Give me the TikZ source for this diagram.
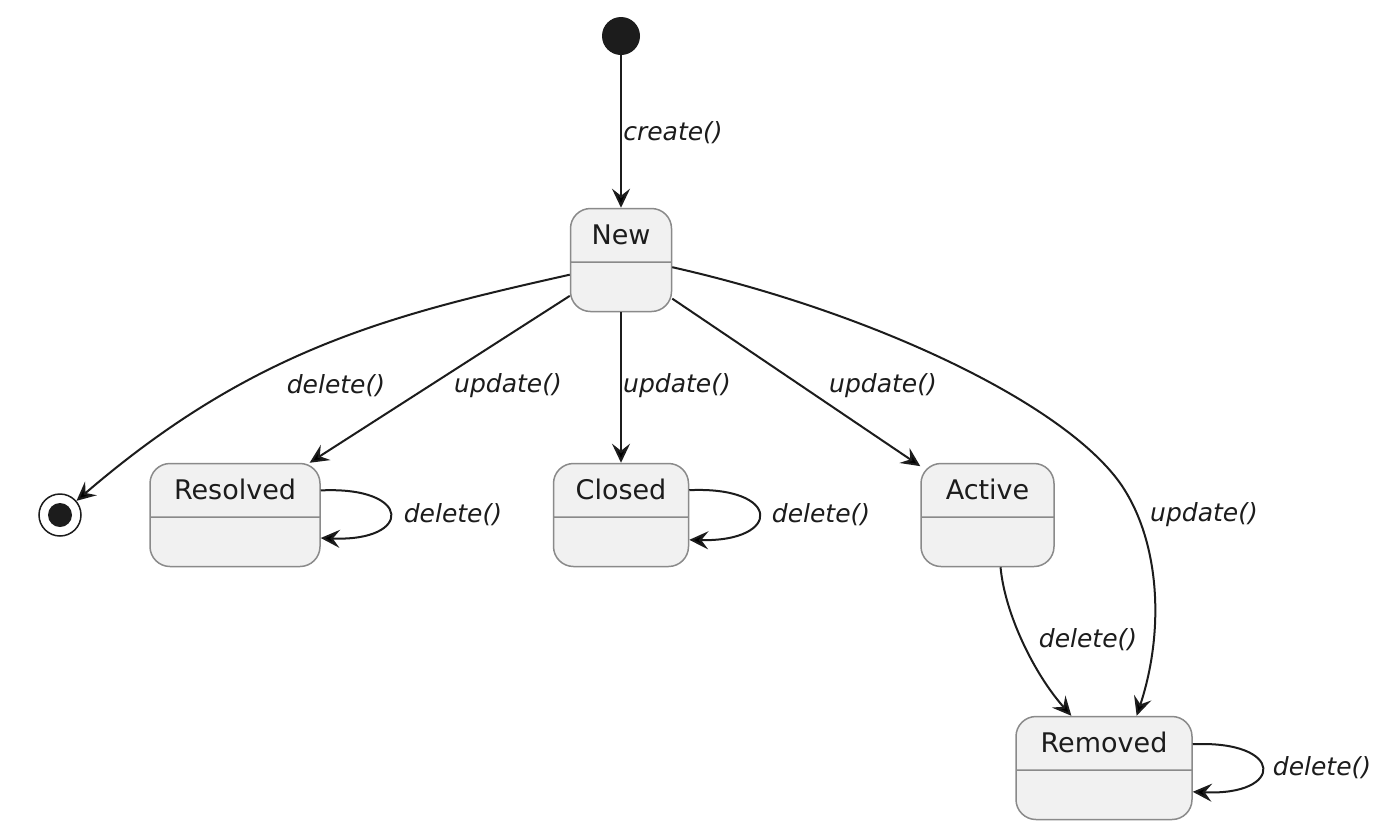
\documentclass[tikz,border=0pt]{standalone}
\usepackage{fontspec}
\setmainfont{DejaVu Sans}
\usetikzlibrary{arrows.meta,shapes.multipart}

\definecolor{statefill}{HTML}{F1F1F1}
\definecolor{stateline}{HTML}{8A8A8A}
\definecolor{ink}{HTML}{1C1C1C}

\tikzset{
  state/.style={rectangle split, rectangle split parts=2, draw=stateline,
    fill=statefill, line width=1.5pt, rounded corners=20pt,
    inner xsep=0pt, inner ysep=0pt, font=\fontsize{27}{30}\selectfont, text=ink},
  trans/.style={draw=ink, line width=2pt,
    -{Stealth[length=19pt,width=18pt,inset=7pt]}},
  lbl/.style={font=\fontsize{25}{28}\selectfont\itshape, text=ink, inner sep=0pt},
}

\begin{document}
\begin{tikzpicture}[x=1pt, y=-1pt]
  \useasboundingbox[fill=white] (0,0) rectangle (1396,828);

  % start and end
  \node[circle, fill=ink, minimum size=38pt, inner sep=0pt] (init) at (621,36) {};
  \node[circle, draw=ink, line width=1.5pt, minimum size=42pt, inner sep=0pt] (final) at (60,515) {};
  \node[circle, fill=ink, minimum size=24pt, inner sep=0pt] (finaldot) at (final.center) {};

  % states
  \node[state, minimum width=101pt] (new) at (621,260)
    {\rule[-17pt]{0pt}{52pt}New\nodepart{two}\rule{0pt}{48pt}};
  \node[state, minimum width=170pt] (res) at (235,515)
    {\rule[-17pt]{0pt}{52pt}Resolved\nodepart{two}\rule{0pt}{48pt}};
  \node[state, minimum width=135pt] (clo) at (621,515)
    {\rule[-17pt]{0pt}{52pt}Closed\nodepart{two}\rule{0pt}{48pt}};
  \node[state, minimum width=133pt] (act) at (987.5,515)
    {\rule[-17pt]{0pt}{52pt}Active\nodepart{two}\rule{0pt}{48pt}};
  \node[state, minimum width=176pt] (rem) at (1104,768)
    {\rule[-17pt]{0pt}{52pt}Removed\nodepart{two}\rule{0pt}{48pt}};

  % transitions
  \draw[trans] (init) -- (new);
  \draw[trans] (new.196) .. controls (390,315) and (253,349) .. (final);
  \draw[trans] (new.215) -- (res.35);
  \draw[trans] (new) -- (clo);
  \draw[trans] (new.323) -- (act.144);
  \coordinate (bend) at (1120,483);
  \draw[trans] (new.352) .. controls (871,312) and (1062,402) .. (bend)
    .. controls (1160,540) and (1165,630) .. (rem.58);
  \draw[trans] (act.284) .. controls (1005,615) and (1035,675) .. (rem.122);

  % self loops
  \draw[trans] (res.16) .. controls (413,486) and (413,542) .. (res.345);
  \draw[trans] (clo.20) .. controls (782,486) and (782,542) .. (clo.340);
  \draw[trans] (rem.15) .. controls (1285,740) and (1285,796) .. (rem.345);

  \node[lbl] (lcreate) at (673,133) {create()};
  \node[lbl] (ldel1) at (336,386) {delete()};
  \node[lbl] (lupd1) at (508,386) {update()};
  \node[lbl] (lupd2) at (677,386) {update()};
  \node[lbl] (lupd3) at (883,386) {update()};
  \node[lbl] (lupd4) at (1204,515) {update()};
  \node[lbl] (ldel2) at (1088,640) {delete()};
  \node[lbl] (ldel3) at (453,515) {delete()};
  \node[lbl] (ldel4) at (821,515) {delete()};
  \node[lbl] (ldel5) at (1322,768) {delete()};
\end{tikzpicture}
\end{document}
